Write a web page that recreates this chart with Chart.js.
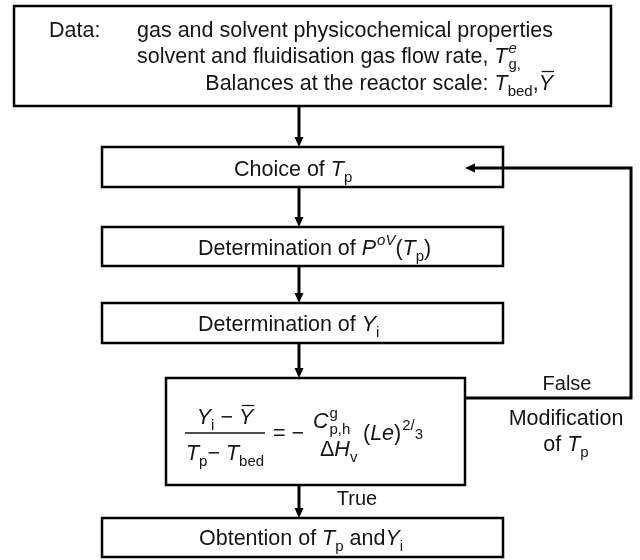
<!DOCTYPE html>
<html>
<head>
<meta charset="utf-8">
<script src="https://cdn.jsdelivr.net/npm/chart.js@4.4.1/dist/chart.umd.min.js"></script>
<style>
  html, body { margin: 0; padding: 0; background: #fff; }
</style>
</head>
<body>
<canvas id="flowchart" width="640" height="560"></canvas>
<script>
// text piece: S(text, flags)  flags: i italic, b subscript, p superscript, m small on baseline,
// o overbar, s next piece stacks under this one
const S = (t, f) => ({ t: t, f: f || '' });

// ---- content ----
const inputLines = [
  [S('Data:')],
  [S('gas and solvent physicochemical properties')],
  [S('solvent and fluidisation gas flow rate, '), S('T', 'i'), S('e', 'ips'), S('g,', 'b')],
  [S('Balances at the reactor scale: '), S('T', 'i'), S('bed', 'b'), S(','), S('Y', 'io')]
];

const stepLabels = [
  [S('Choice of '), S('T', 'i'), S('p', 'b')],
  [S('Determination of '), S('P', 'i'), S('oV', 'ip'), S('('), S('T', 'i'), S('p', 'b'), S(')')],
  [S('Determination of '), S('Y', 'i'), S('i', 'b')],
  [S('Obtention of '), S('T', 'i'), S('p', 'b'), S(' and'), S('Y', 'i'), S('i', 'b')]
];

// test: (Yi - Ybar)/(Tp - Tbed) = - C/dH (Le)^2/3
const testNumerator = [S('Y', 'i'), S('i', 'b'), S(' \u2212 '), S('Y', 'io')];
const testDenominator = [S('T', 'i'), S('p', 'b'), S('\u2212 '), S('T', 'i'), S('bed', 'b')];
const testEquals = [S('= \u2212')];
const coefNumerator = [S('C', 'i'), S('g', 'ps'), S('p,h', 'b')];
const coefDenominator = [S('\u0394'), S('H', 'i'), S('v', 'b')];
const coefPower = [S('('), S('Le', 'i'), S(')'), S('2/', 'p'), S('3', 'm')];

const branchTrue = [S('True')];
const branchFalse = [S('False')];
const loopNote = [[S('Modification')], [S('of '), S('T', 'i'), S('p', 'b')]];

// nodes: 0 data, 1 choice, 2 P, 3 Yi, 4 test, 5 result
const flowLinks = [[0, 1], [1, 2], [2, 3], [3, 4], [4, 5]];

// ---- layout (canvas units) ----
const boxes = [
  { x0: 14, x1: 611, y0: 6, y1: 106 },
  { x0: 102, x1: 503, y0: 147, y1: 187 },
  { x0: 102, x1: 503, y0: 227, y1: 266 },
  { x0: 102, x1: 503, y0: 303, y1: 343 },
  { x0: 166, x1: 465, y0: 378, y1: 485 },
  { x0: 102, x1: 503, y0: 518, y1: 557 }
];
const spineX = 299;
const loopPath = { y0: 398, x: 631, y1: 168, tipX: 465 };
const stepText = [[234, 176], [198, 255], [198, 331], [199, 545]];
const FONT = '"Liberation Sans", Arial, Helvetica, sans-serif';
const INK = '#151515';
const TXT = 21.5;

// ---- connectors as line datasets ----
const headLen = 10;
function seg(points) {
  // pull the last point back so the line ends inside the arrow head
  const n = points.length, a = points[n - 2], b = points[n - 1];
  const dx = Math.sign(b.x - a.x), dy = Math.sign(b.y - a.y);
  const pts = points.slice(0, n - 1).concat([{ x: b.x - dx * headLen * 0.6, y: b.y - dy * headLen * 0.6 }]);
  return {
    data: pts, tip: b, dir: { x: dx, y: dy },
    showLine: true, pointRadius: 0, borderColor: '#000', borderWidth: 3,
    borderJoinStyle: 'miter', borderCapStyle: 'butt', tension: 0, fill: false, clip: false
  };
}
const datasets = flowLinks.map(([a, b]) => seg([{ x: spineX, y: boxes[a].y1 }, { x: spineX, y: boxes[b].y0 }]));
datasets.push(seg([
  { x: boxes[4].x1, y: loopPath.y0 },
  { x: loopPath.x, y: loopPath.y0 },
  { x: loopPath.x, y: loopPath.y1 },
  { x: loopPath.tipX, y: loopPath.y1 }
]));

// ---- rich text ----
function layoutRich(ctx, segs, size) {
  const parts = [];
  let cx = 0, stackAt = null, stackW = 0;
  segs.forEach(s => {
    const small = s.f.includes('b') || s.f.includes('p') || s.f.includes('m');
    const fs = small ? Math.round(size * 0.68) : size;
    const font = (s.f.includes('i') ? 'italic ' : '') + fs + 'px ' + FONT;
    ctx.font = font;
    const w = ctx.measureText(s.t).width;
    const dy = s.f.includes('b') ? size * 0.3 : s.f.includes('p') ? -size * 0.45 : s.f.includes('m') ? -1 : 0;
    let x;
    if (stackAt !== null) {
      x = stackAt; cx = stackAt + Math.max(stackW, w); stackAt = null;
    } else {
      x = cx + (s.f.includes('p') ? 1 : 0); cx = x + w;
    }
    if (s.f.includes('s')) { stackAt = x; stackW = w; }
    parts.push({ t: s.t, font, x, dy, w, over: s.f.includes('o'), size: fs });
  });
  return { parts, width: cx };
}
function drawRich(ctx, segs, x, y, size, align) {
  const L = layoutRich(ctx, segs, size);
  let x0 = x;
  if (align === 'center') x0 = x - L.width / 2;
  if (align === 'right') x0 = x - L.width;
  ctx.fillStyle = INK;
  ctx.strokeStyle = INK;
  ctx.textBaseline = 'alphabetic';
  ctx.textAlign = 'left';
  L.parts.forEach(p => {
    ctx.font = p.font;
    ctx.fillText(p.t, x0 + p.x, y + p.dy);
    if (p.over) {
      const oy = y + p.dy - p.size * 0.86;
      ctx.lineWidth = 1.3;
      ctx.beginPath();
      ctx.moveTo(x0 + p.x + 3, oy);
      ctx.lineTo(x0 + p.x + p.w + 1, oy);
      ctx.stroke();
    }
  });
}

const flowPlugin = {
  id: 'flow',
  afterDatasetsDraw(chart) {
    const ctx = chart.ctx, sx = chart.scales.x, sy = chart.scales.y;
    const X = v => sx.getPixelForValue(v), Y = v => sy.getPixelForValue(v);
    ctx.save();
    // boxes
    ctx.strokeStyle = '#000';
    ctx.lineWidth = 2.5;
    boxes.forEach(b => {
      ctx.strokeRect(X(b.x0), Y(b.y0), X(b.x1) - X(b.x0), Y(b.y1) - Y(b.y0));
    });
    // arrow heads
    ctx.fillStyle = '#000';
    chart.data.datasets.forEach(ds => {
      const tx = X(ds.tip.x), ty = Y(ds.tip.y), d = ds.dir;
      const bx = tx - d.x * headLen, by = ty - d.y * headLen;
      ctx.beginPath();
      ctx.moveTo(tx, ty);
      ctx.lineTo(bx - d.y * 4.5, by + d.x * 4.5);
      ctx.lineTo(bx + d.y * 4.5, by - d.x * 4.5);
      ctx.closePath();
      ctx.fill();
    });
    // input box
    drawRich(ctx, inputLines[0], X(49), Y(37), TXT, 'left');
    drawRich(ctx, inputLines[1], X(137), Y(37), TXT, 'left');
    drawRich(ctx, inputLines[2], X(137), Y(63), TXT, 'left');
    drawRich(ctx, inputLines[3], X(553), Y(90), TXT, 'right');
    // step boxes
    stepLabels.forEach((lab, k) => {
      drawRich(ctx, lab, X(stepText[k][0]), Y(stepText[k][1]), TXT, 'left');
    });
    // test box
    drawRich(ctx, testNumerator, X(225), Y(424), TXT, 'center');
    ctx.strokeStyle = INK;
    ctx.lineWidth = 1.5;
    ctx.beginPath();
    ctx.moveTo(X(185), Y(433));
    ctx.lineTo(X(265), Y(433));
    ctx.stroke();
    drawRich(ctx, testDenominator, X(225), Y(460), TXT, 'center');
    drawRich(ctx, testEquals, X(273), Y(440), TXT, 'left');
    drawRich(ctx, coefNumerator, X(313), Y(428), TXT, 'left');
    drawRich(ctx, coefDenominator, X(320), Y(456), TXT, 'left');
    drawRich(ctx, coefPower, X(363), Y(440), TXT, 'left');
    // branch labels
    drawRich(ctx, branchTrue, X(357), Y(505), 20, 'center');
    drawRich(ctx, branchFalse, X(567), Y(390), 20, 'center');
    drawRich(ctx, loopNote[0], X(566), Y(425), TXT, 'center');
    drawRich(ctx, loopNote[1], X(566), Y(451), TXT, 'center');
    ctx.restore();
  }
};

new Chart(document.getElementById('flowchart'), {
  type: 'scatter',
  data: { datasets: datasets },
  options: {
    responsive: false,
    animation: false,
    events: [],
    layout: { padding: 0 },
    plugins: { legend: { display: false }, tooltip: { enabled: false } },
    scales: {
      x: { type: 'linear', min: 0, max: 640, display: false },
      y: { type: 'linear', min: 0, max: 560, reverse: true, display: false }
    }
  },
  plugins: [flowPlugin]
});
</script>
</body>
</html>
